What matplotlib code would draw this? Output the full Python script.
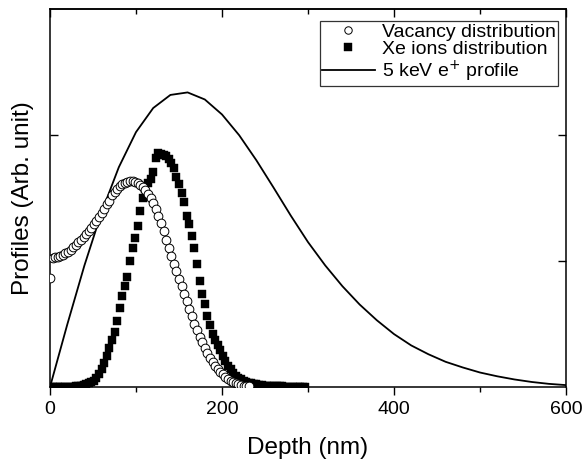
import numpy as np
import matplotlib
matplotlib.use("Agg")
import matplotlib.pyplot as plt

plt.rcParams['font.family'] = ['Liberation Sans', 'DejaVu Sans']

# ---- data ----
vac_depth = [0, 3, 6, 9, 12, 15, 18, 21, 24, 27, 30, 33, 36, 39, 42, 45, 48, 51, 54, 57,
             60, 63, 66, 69, 72, 75, 78, 81, 84, 87, 90, 93, 96, 99, 102, 105, 108, 111, 114, 117,
             120, 123, 126, 129, 132, 135, 138, 141, 144, 147, 150, 153, 156, 159, 162, 165, 168, 171, 174, 177,
             180, 183, 186, 189, 192, 195, 198, 201, 204, 207, 210, 213, 216, 219, 222, 225, 228, 231]
vac_vals = [0.865, 1.02, 1.03, 1.035, 1.04, 1.05, 1.06, 1.075, 1.09, 1.11, 1.13, 1.15, 1.17, 1.19, 1.215, 1.24, 1.265, 1.29, 1.32, 1.35,
            1.38, 1.41, 1.45, 1.48, 1.52, 1.55, 1.575, 1.595, 1.61, 1.62, 1.63, 1.635, 1.635, 1.63, 1.62, 1.605, 1.585, 1.56, 1.53, 1.50,
            1.46, 1.41, 1.36, 1.30, 1.24, 1.17, 1.10, 1.04, 0.98, 0.92, 0.86, 0.80, 0.74, 0.68, 0.62, 0.56, 0.50, 0.45, 0.40, 0.355,
            0.31, 0.27, 0.23, 0.20, 0.17, 0.14, 0.12, 0.10, 0.08, 0.065, 0.05, 0.04, 0.03, 0.022, 0.016, 0.011, 0.007, 0.004]

xe_depth = [0, 3, 6, 9, 12, 15, 18, 21, 24, 27, 30, 33, 36, 39, 42, 45, 48, 51, 54, 57,
            60, 63, 66, 69, 72, 75, 78, 81, 84, 87, 90, 93, 96, 99, 102, 105, 108, 111, 114, 117,
            120, 123, 126, 129, 132, 135, 138, 141, 144, 147, 150, 153, 156, 159, 162, 165, 168, 171, 174, 177,
            180, 183, 186, 189, 192, 195, 198, 201, 204, 207, 210, 213, 216, 219, 222, 225, 228, 231, 234, 237,
            240, 243, 246, 249, 252, 255, 258, 261, 264, 267, 270, 273, 276, 279, 282, 285, 288, 291, 294, 297]
xe_vals = [0.0, 0.0, 0.0, 0.0, 0.0, 0.0, 0.0, 0.001, 0.002, 0.003, 0.004, 0.005, 0.01, 0.015, 0.02, 0.03, 0.04, 0.05, 0.07, 0.10,
           0.14, 0.19, 0.25, 0.31, 0.37, 0.44, 0.52, 0.63, 0.72, 0.80, 0.87, 1.00, 1.10, 1.18, 1.28, 1.40, 1.50, 1.57, 1.62, 1.65,
           1.71, 1.82, 1.86, 1.85, 1.84, 1.83, 1.81, 1.78, 1.74, 1.67, 1.61, 1.54, 1.47, 1.36, 1.29, 1.20, 1.10, 0.98, 0.84, 0.74,
           0.66, 0.56, 0.49, 0.42, 0.37, 0.33, 0.29, 0.25, 0.21, 0.17, 0.14, 0.11, 0.09, 0.075, 0.06, 0.05, 0.04, 0.035, 0.03, 0.025,
           0.02, 0.015, 0.012, 0.01, 0.008, 0.007, 0.006, 0.005, 0.005, 0.004, 0.004, 0.003, 0.003, 0.003, 0.002, 0.002, 0.002, 0.002, 0.002, 0.002]

pos_depth = [0, 20, 40, 60, 80, 100, 120, 140, 160, 180, 200, 220, 240, 260, 280, 300,
             320, 340, 360, 380, 400, 420, 440, 460, 480, 500, 520, 540, 560, 580, 600]
pos_vals = [0.0, 0.494, 0.964, 1.387, 1.744, 2.023, 2.214, 2.318, 2.338, 2.282, 2.163, 1.998, 1.799, 1.582, 1.36, 1.15,
            0.965, 0.80, 0.655, 0.53, 0.42, 0.33, 0.26, 0.20, 0.155, 0.115, 0.085, 0.06, 0.04, 0.025, 0.015]

x_major = [0, 200, 400, 600]
x_minor = [100, 300, 500]
y_major = [1, 2]

# ---- figure ----
fig = plt.figure(figsize=(5.83, 4.62), dpi=100)
ax = fig.add_axes([50/583, 75/462, 516/583, 378/462])

ax.plot(pos_depth, pos_vals, '-', color='black', lw=1.3, label='5 keV e$^{+}$ profile', zorder=2)
ax.plot(xe_depth, xe_vals, 's', color='black', ms=6.0, mec='black', mew=0.3,
        label='Xe ions distribution', zorder=3)
ax.plot(vac_depth, vac_vals, 'o', mfc='white', mec='black', ms=6.3, mew=0.7,
        label='Vacancy distribution', zorder=4)

ax.set_xlim(0, 600)
ax.set_ylim(0, 3)
ax.set_xticks(x_major)
ax.set_xticks(x_minor, minor=True)
ax.set_yticks(y_major)
ax.set_yticklabels([])
ax.tick_params(axis='x', which='major', direction='out', length=6, width=1, labelsize=14, pad=4)
ax.tick_params(axis='x', which='minor', direction='out', length=3.5, width=1)
ax.tick_params(axis='y', which='both', direction='in', length=6, width=1, left=True, right=True)
for s in ax.spines.values():
    s.set_linewidth(1.1)

sec = ax.secondary_xaxis('top')
sec.set_xticks(x_major)
sec.set_xticks(x_minor, minor=True)
sec.tick_params(axis='x', which='major', direction='in', length=6, width=1, labeltop=False)
sec.tick_params(axis='x', which='minor', direction='in', length=3.5, width=1)
sec.spines['top'].set_linewidth(1.1)

ax.set_xlabel('Depth (nm)', fontsize=17.5, labelpad=14)
ax.set_ylabel('Profiles (Arb. unit)', fontsize=17.5, labelpad=8)

handles, labels = ax.get_legend_handles_labels()
order = [2, 1, 0]
leg = ax.legend([handles[i] for i in order], [labels[i] for i in order],
                loc='upper right', bbox_to_anchor=(0.985, 0.968), fontsize=14,
                frameon=True, fancybox=False, edgecolor='black', handlelength=2.7,
                handletextpad=0.4, borderpad=0.1, labelspacing=0.0, borderaxespad=0.0,
                markerscale=0.85)
leg.get_frame().set_linewidth(0.9)

fig.savefig('out.png', dpi=100)
